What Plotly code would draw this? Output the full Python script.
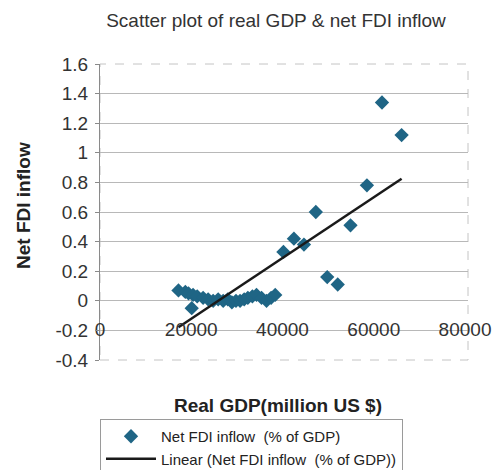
import numpy as np
import plotly.graph_objects as go

# Data
gdp = [17200, 18700, 19400, 20100, 20400, 21300, 22600, 23700, 24800, 25900,
       27000, 28000, 28900, 29800, 30700, 31600, 32400, 33400, 34300, 35400,
       36500, 37500, 38400, 40200, 42500, 44700, 47300, 49800, 52100, 54900,
       58500, 61800, 66100]
fdi = [0.07, 0.06, 0.05, -0.05, 0.04, 0.03, 0.02, 0.01, 0.0, 0.01,
       0.0, 0.01, -0.01, 0.0, 0.0, 0.01, 0.02, 0.03, 0.04, 0.02,
       0.0, 0.02, 0.04, 0.33, 0.42, 0.38, 0.60, 0.16, 0.11, 0.51,
       0.78, 1.34, 1.12]

x_ticks = [0, 20000, 40000, 60000, 80000]
y_ticks = [-0.4, -0.2, 0, 0.2, 0.4, 0.6, 0.8, 1, 1.2, 1.4, 1.6]

slope, intercept = np.polyfit(gdp, fdi, 1)
x_fit = [min(gdp), max(gdp)]
y_fit = [slope * v + intercept for v in x_fit]

FONT = "Liberation Sans, Arial, sans-serif"
MARK = "#1f6585"

fig = go.Figure()
fig.add_trace(go.Scatter(
    x=gdp, y=fdi, mode="markers", name="Net FDI inflow  (% of GDP)",
    marker=dict(symbol="diamond", size=11, color=MARK),
))
fig.add_trace(go.Scatter(
    x=x_fit, y=y_fit, mode="lines", name="Linear (Net FDI inflow  (% of GDP))",
    line=dict(color="#1a1a1a", width=2.5),
))

fig.update_layout(
    width=496, height=470,
    margin=dict(l=100, r=28, t=64, b=110, autoexpand=False),
    paper_bgcolor="white", plot_bgcolor="white",
    font=dict(family=FONT, color="#333333"),
    title=dict(text="Scatter plot of real GDP & net FDI inflow",
               x=276 / 496, xref="container", xanchor="center",
               y=1 - 20 / 470, yref="container", yanchor="middle",
               font=dict(size=19, color="#333333", family=FONT)),
    showlegend=True,
    legend=dict(xref="container", yref="container", x=100 / 496, y=1 - 419 / 470,
                xanchor="left", yanchor="top", bordercolor="#9a9a9a", borderwidth=1,
                font=dict(size=15, color="#222222", family=FONT),
                tracegroupgap=0, itemwidth=50, bgcolor="white"),
    xaxis=dict(range=[0, 80650], tickvals=x_ticks, ticktext=[str(v) for v in x_ticks],
               showgrid=False, zeroline=False, showline=False, automargin=False,
               ticks="", ticklabelstandoff=-44,
               tickfont=dict(size=19, color="#333333", family=FONT)),
    yaxis=dict(range=[-0.4, 1.6], tickvals=y_ticks, automargin=False,
               ticktext=[("%g" % v) for v in y_ticks],
               showgrid=True, gridcolor="#b8b8b8", gridwidth=1,
               zeroline=False, showline=True, linecolor="#8a8a8a", linewidth=1,
               ticks="outside", ticklen=4, tickcolor="#8a8a8a", ticklabelstandoff=3,
               tickfont=dict(size=19, color="#333333", family=FONT)),
)
fig.add_annotation(text="<b>Net FDI inflow</b>", xref="paper", yref="paper",
                   x=(23 - 100) / 368, y=(360 - 206) / 296, xanchor="center", yanchor="middle",
                   textangle=-90, showarrow=False,
                   font=dict(size=19, color="#222222", family=FONT))
fig.add_annotation(text="<b>Real GDP(million US $)</b>", xref="paper", yref="paper",
                   x=(278 - 100) / 368, y=(360 - 405) / 296, xanchor="center", yanchor="middle",
                   showarrow=False, font=dict(size=19, color="#222222", family=FONT))
fig.add_shape(type="rect", xref="paper", yref="paper", x0=0, x1=1, y0=0, y1=1,
              line=dict(color="#c4c4c4", width=1, dash="dash"), layer="below")

fig.write_html("out.html")
